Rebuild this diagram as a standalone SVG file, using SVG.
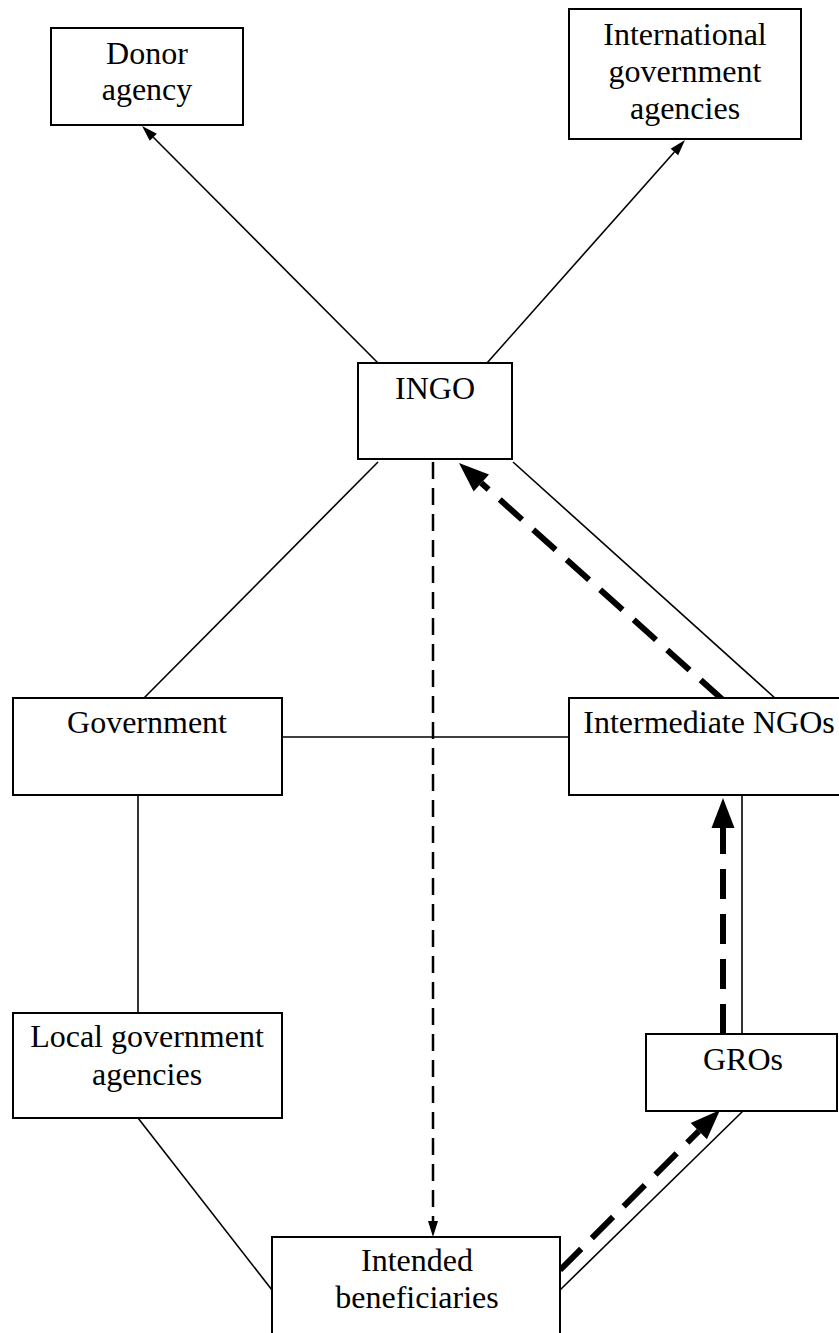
<svg xmlns="http://www.w3.org/2000/svg" width="839" height="1333" viewBox="0 0 839 1333">
<style>
.box{fill:#fff;stroke:#000;stroke-width:2}
.t{font-family:"Liberation Serif","Times New Roman",serif;font-size:32px;fill:#000;text-anchor:middle}
.ln{stroke:#000;stroke-width:1.6;fill:none}
.thk{stroke:#000;stroke-width:6;fill:none;stroke-dasharray:30 15}
.dsh{stroke:#000;stroke-width:2.5;fill:none;stroke-dasharray:17 9}
</style>
<defs>
<marker id="big" markerUnits="userSpaceOnUse" markerWidth="31" markerHeight="24" refX="0" refY="12" orient="auto" overflow="visible">
<path d="M0,0.5 L30,12 L0,23.5 z" fill="#000"/>
</marker>
<marker id="small" markerUnits="userSpaceOnUse" markerWidth="17" markerHeight="11" refX="0" refY="5.5" orient="auto" overflow="visible">
<path d="M0,0.5 L16,5.5 L0,10.5 z" fill="#000"/>
</marker>
</defs>
<g id="connectors">
<line class="ln" x1="378" y1="363" x2="153.3" y2="137.3" marker-end="url(#small)"/>
<line class="ln" x1="487" y1="363" x2="674.4" y2="152" marker-end="url(#small)"/>
<line class="ln" x1="378" y1="462" x2="144" y2="698"/>
<line class="ln" x1="513" y1="462" x2="776" y2="699"/>
<line class="ln" x1="282" y1="737" x2="569" y2="737"/>
<line class="ln" x1="138" y1="795" x2="138" y2="1013"/>
<line class="ln" x1="742" y1="795" x2="742" y2="1034"/>
<line class="ln" x1="138" y1="1118" x2="272" y2="1290"/>
<line class="ln" x1="743" y1="1111" x2="560" y2="1290"/>
<line class="dsh" x1="433" y1="462" x2="433" y2="1221" marker-end="url(#small)"/>
<line class="thk" x1="723" y1="700" x2="481.3" y2="483" marker-end="url(#big)"/>
<line class="thk" x1="723" y1="1034" x2="723" y2="828" marker-end="url(#big)"/>
<line class="thk" x1="560" y1="1270" x2="698.8" y2="1131.2" marker-end="url(#big)"/>
</g>
<g id="donor">
<rect class="box" x="51" y="28" width="192" height="97"/>
<text class="t" x="147" y="64">Donor</text>
<text class="t" x="147" y="100">agency</text>
</g>
<g id="intl">
<rect class="box" x="569" y="9" width="232" height="130"/>
<text class="t" x="685" y="45">International</text>
<text class="t" x="685" y="82">government</text>
<text class="t" x="685" y="119">agencies</text>
</g>
<g id="ingo">
<rect class="box" x="358" y="363" width="154" height="96"/>
<text class="t" x="435" y="399">INGO</text>
</g>
<g id="government">
<rect class="box" x="13" y="698" width="269" height="97"/>
<text class="t" x="147" y="733">Government</text>
</g>
<g id="intermediate">
<rect class="box" x="569" y="698" width="272" height="97"/>
<text class="t" x="709" y="733">Intermediate NGOs</text>
</g>
<g id="local">
<rect class="box" x="13" y="1013" width="269" height="105"/>
<text class="t" x="147" y="1047">Local government</text>
<text class="t" x="147" y="1085">agencies</text>
</g>
<g id="gros">
<rect class="box" x="646" y="1034" width="191" height="77"/>
<text class="t" x="743" y="1070">GROs</text>
</g>
<g id="beneficiaries">
<rect class="box" x="272" y="1237" width="288" height="110"/>
<text class="t" x="417" y="1271">Intended</text>
<text class="t" x="417" y="1308">beneficiaries</text>
</g>
</svg>
